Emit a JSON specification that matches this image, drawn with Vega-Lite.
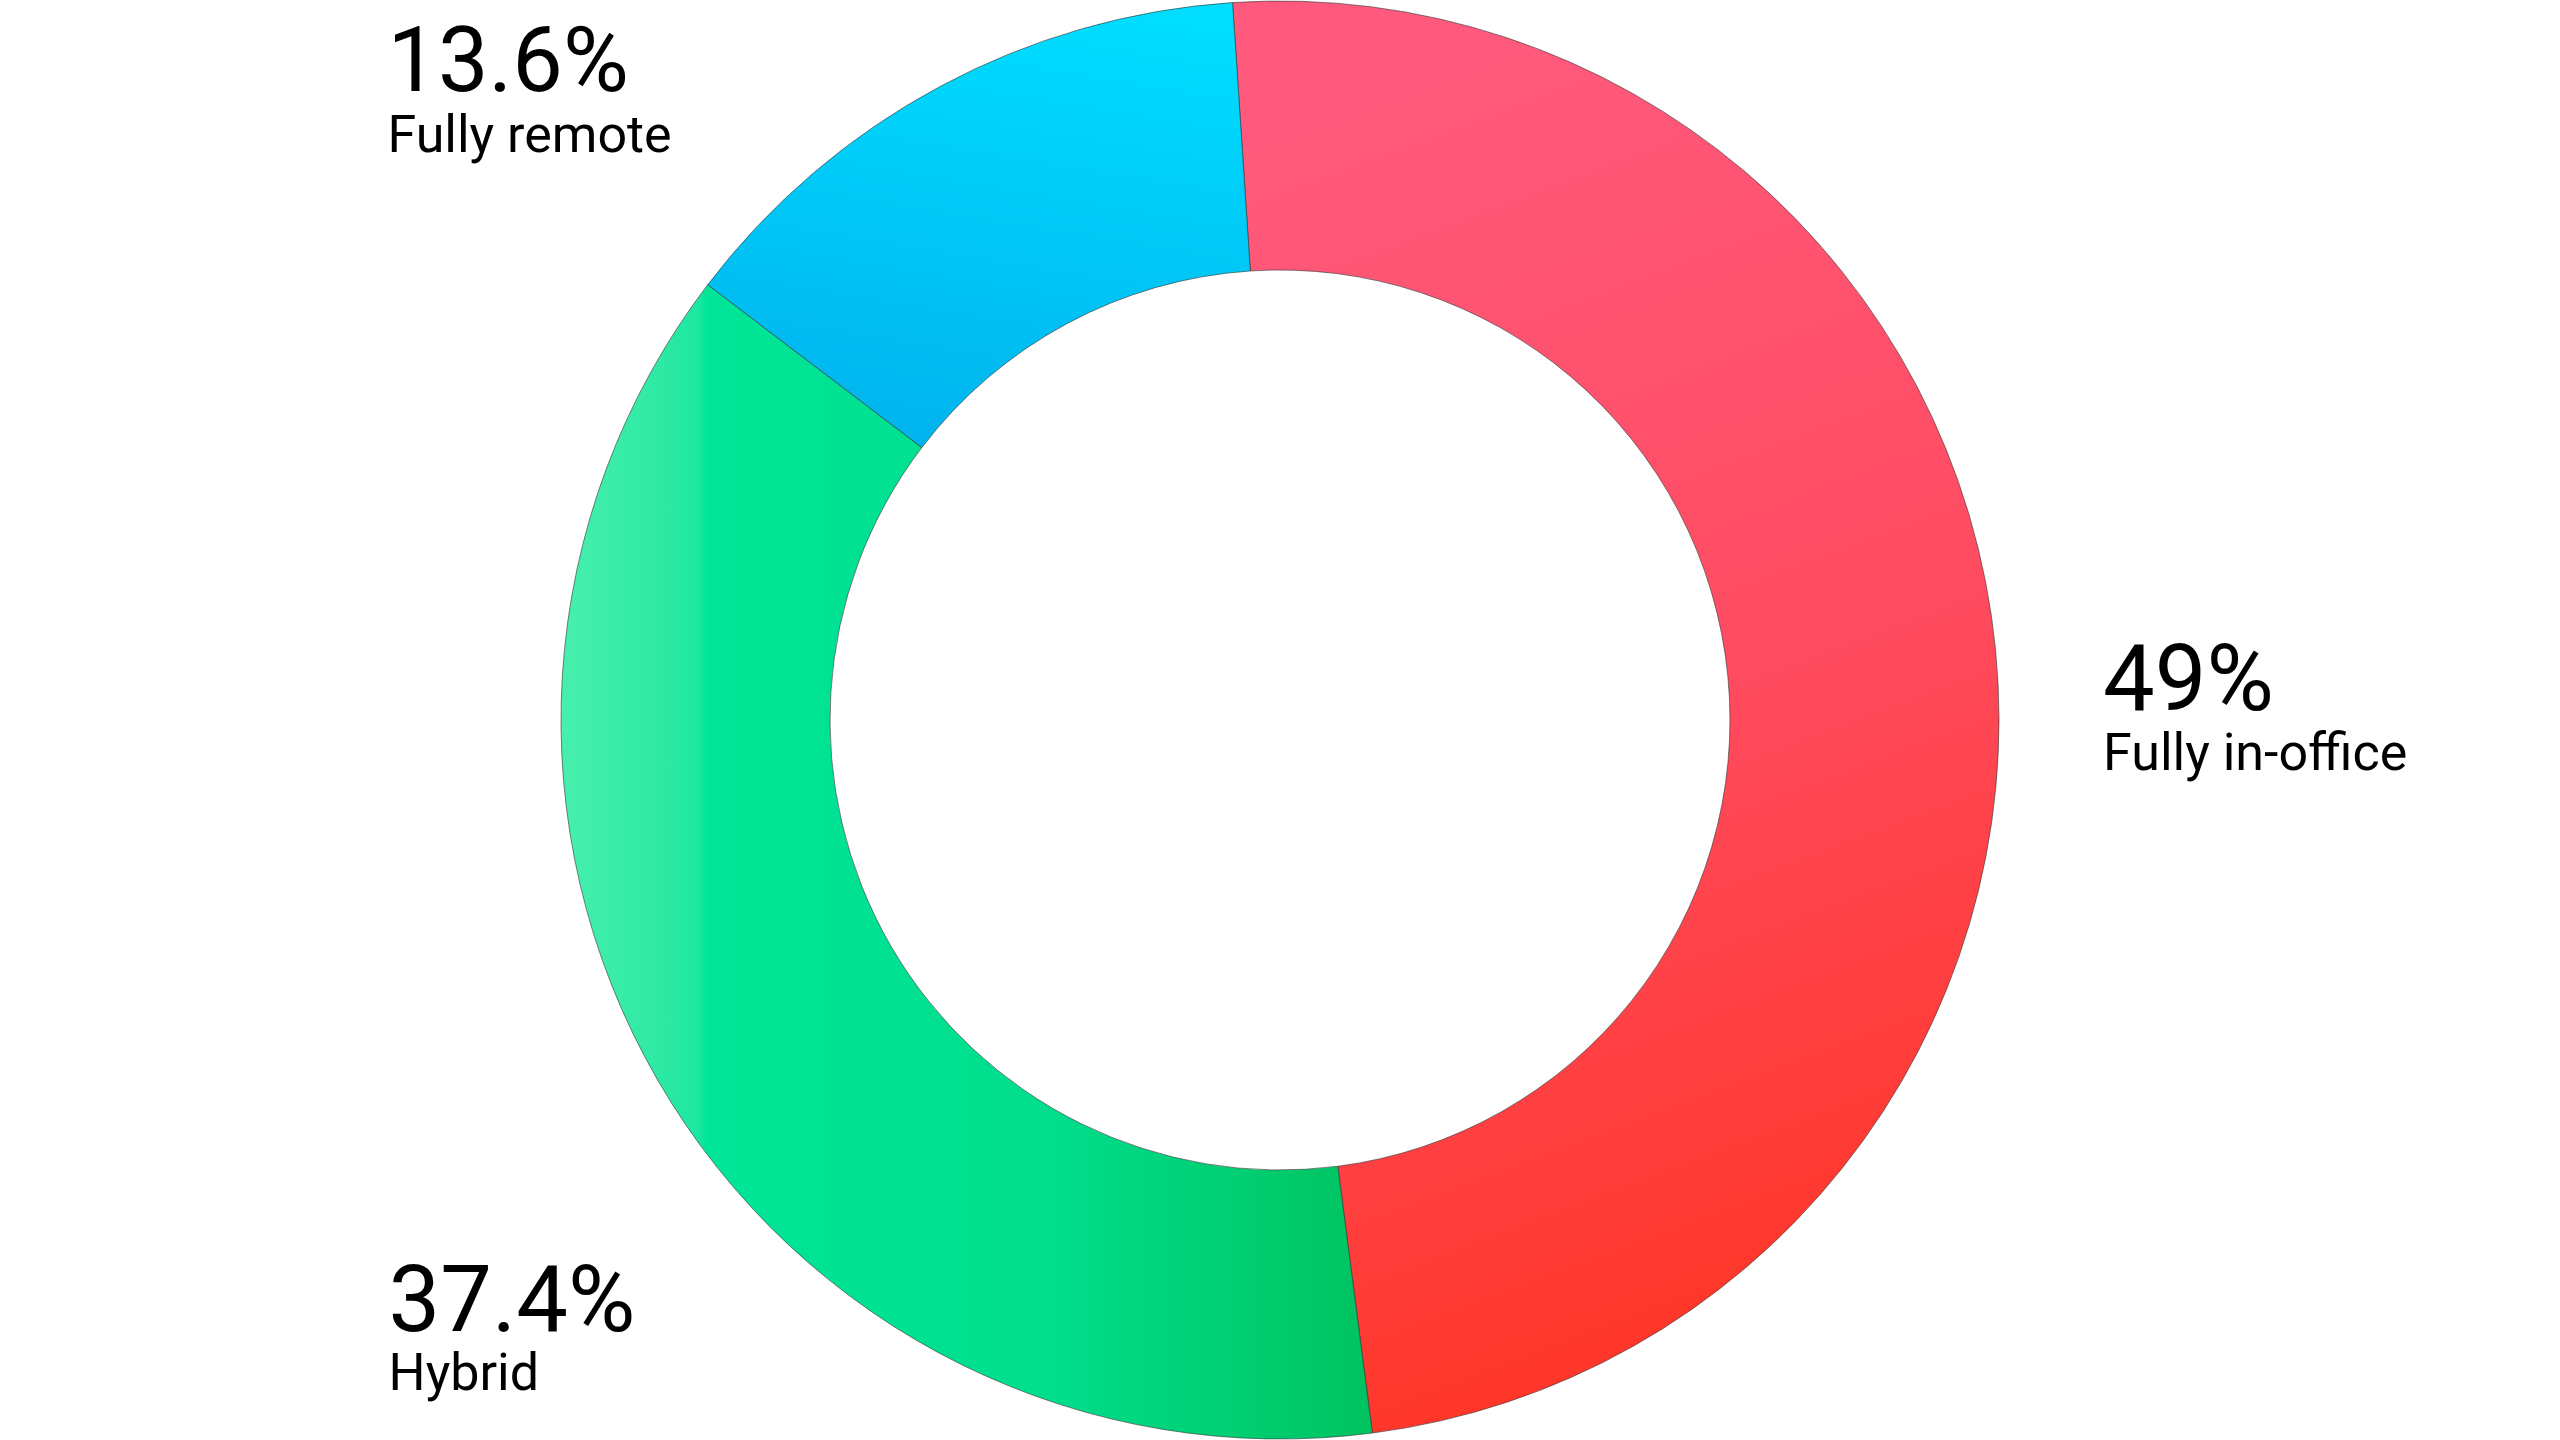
{
  "$schema": "https://vega.github.io/schema/vega-lite/v6.json",
  "description": "Work arrangement split, donut chart with gradient segments.",
  "width": 2560,
  "height": 1440,
  "padding": 0,
  "autosize": {"type": "none"},
  "background": "#ffffff",
  "data": {
    "values": [
      {"label": "Fully in-office", "share": 0.49, "order": 1},
      {"label": "Hybrid", "share": 0.374, "order": 2},
      {"label": "Fully remote", "share": 0.136, "order": 3}
    ]
  },
  "transform": [
    {"stack": "share", "groupby": [], "sort": [{"field": "order"}], "as": ["start", "end"]}
  ],
  "layer": [
    {
      "transform": [{"filter": "datum.label === 'Fully in-office'"}],
      "mark": {
        "type": "arc", "innerRadius": 450, "outerRadius": 719,
        "stroke": "#333333", "strokeWidth": 1, "strokeOpacity": 0.6,
        "fill": {
          "gradient": "linear", "x1": 0.4, "y1": 0, "x2": 0.6, "y2": 1,
          "stops": [
            {"offset": 0, "color": "#ff5a7e"},
            {"offset": 0.5, "color": "#ff4b60"},
            {"offset": 1, "color": "#ff3320"}
          ]
        }
      },
      "encoding": {
        "theta": {"field": "start", "type": "quantitative", "scale": {"domain": [0, 1], "range": [-0.066, 6.2172]}},
        "theta2": {"field": "end"}
      }
    },
    {
      "transform": [{"filter": "datum.label === 'Hybrid'"}],
      "mark": {
        "type": "arc", "innerRadius": 450, "outerRadius": 719,
        "stroke": "#333333", "strokeWidth": 1, "strokeOpacity": 0.6,
        "fill": {
          "gradient": "linear", "x1": 0, "y1": 0.5, "x2": 1, "y2": 0.5,
          "stops": [
            {"offset": 0, "color": "#48efae"},
            {"offset": 0.13, "color": "#2ce9a3"},
            {"offset": 0.17, "color": "#1ae7a0"},
            {"offset": 0.18, "color": "#00e597"},
            {"offset": 0.6, "color": "#00de8c"},
            {"offset": 1, "color": "#00c35f"}
          ]
        }
      },
      "encoding": {
        "theta": {"field": "start", "type": "quantitative", "scale": {"domain": [0, 1], "range": [-0.066, 6.2172]}},
        "theta2": {"field": "end"}
      }
    },
    {
      "transform": [{"filter": "datum.label === 'Fully remote'"}],
      "mark": {
        "type": "arc", "innerRadius": 450, "outerRadius": 719,
        "stroke": "#333333", "strokeWidth": 1, "strokeOpacity": 0.6,
        "fill": {
          "gradient": "linear", "x1": 0.6, "y1": 0, "x2": 0.4, "y2": 1,
          "stops": [
            {"offset": 0, "color": "#00ddff"},
            {"offset": 1, "color": "#00b3ee"}
          ]
        }
      },
      "encoding": {
        "theta": {"field": "start", "type": "quantitative", "scale": {"domain": [0, 1], "range": [-0.066, 6.2172]}},
        "theta2": {"field": "end"}
      }
    },
    {
      "mark": {"type": "text", "radius": 827, "align": "left", "baseline": "alphabetic", "dy": 70, "font": "Roboto", "fontSize": 92, "color": "#000000"},
      "encoding": {
        "theta": {"field": "share", "type": "quantitative", "stack": true},
        "order": {"field": "order"},
        "text": {"condition": {"test": "datum.label === 'Fully in-office'", "field": "share", "type": "quantitative", "format": ".3~%"}, "value": ""}
      }
    },
    {
      "mark": {"type": "text", "radius": 827, "align": "left", "baseline": "alphabetic", "dy": 130, "font": "Roboto", "fontSize": 52, "color": "#000000"},
      "encoding": {
        "theta": {"field": "share", "type": "quantitative", "stack": true},
        "order": {"field": "order"},
        "text": {"condition": {"test": "datum.label === 'Fully in-office'", "field": "label"}, "value": ""}
      }
    },
    {
      "mark": {"type": "text", "radius": 1030, "align": "left", "baseline": "alphabetic", "dy": 95, "font": "Roboto", "fontSize": 92, "color": "#000000"},
      "encoding": {
        "theta": {"field": "share", "type": "quantitative", "stack": true},
        "order": {"field": "order"},
        "text": {"condition": {"test": "datum.label === 'Hybrid'", "field": "share", "type": "quantitative", "format": ".3~%"}, "value": ""}
      }
    },
    {
      "mark": {"type": "text", "radius": 1030, "align": "left", "baseline": "alphabetic", "dy": 154, "font": "Roboto", "fontSize": 52, "color": "#000000"},
      "encoding": {
        "theta": {"field": "share", "type": "quantitative", "stack": true},
        "order": {"field": "order"},
        "text": {"condition": {"test": "datum.label === 'Hybrid'", "field": "label"}, "value": ""}
      }
    },
    {
      "mark": {"type": "text", "radius": 715, "align": "left", "baseline": "alphabetic", "dx": -554, "dy": 1, "font": "Roboto", "fontSize": 90, "color": "#000000"},
      "encoding": {
        "theta": {"field": "share", "type": "quantitative", "stack": true},
        "order": {"field": "order"},
        "text": {"condition": {"test": "datum.label === 'Fully remote'", "field": "share", "type": "quantitative", "format": ".3~%"}, "value": ""}
      }
    },
    {
      "mark": {"type": "text", "radius": 715, "align": "left", "baseline": "alphabetic", "dx": -554, "dy": 62, "font": "Roboto", "fontSize": 52, "color": "#000000"},
      "encoding": {
        "theta": {"field": "share", "type": "quantitative", "stack": true},
        "order": {"field": "order"},
        "text": {"condition": {"test": "datum.label === 'Fully remote'", "field": "label"}, "value": ""}
      }
    }
  ],
  "config": {"view": {"stroke": null}}
}
